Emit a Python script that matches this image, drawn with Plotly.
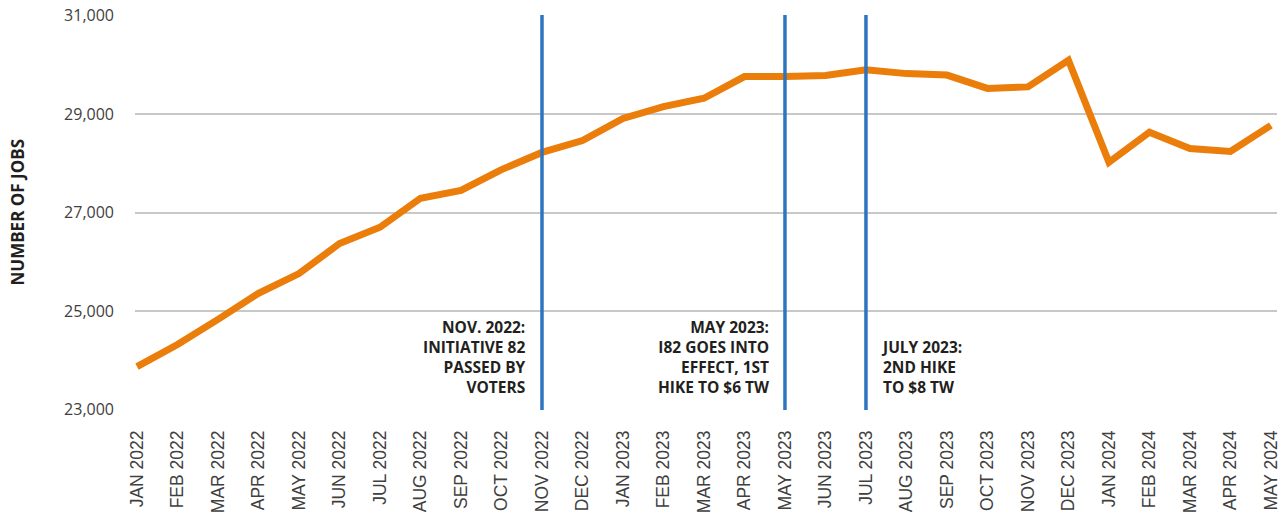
import plotly.graph_objects as go

# monthly job counts, Jan 2022 - May 2024
months = ["JAN 2022", "FEB 2022", "MAR 2022", "APR 2022", "MAY 2022", "JUN 2022",
          "JUL 2022", "AUG 2022", "SEP 2022", "OCT 2022", "NOV 2022", "DEC 2022",
          "JAN 2023", "FEB 2023", "MAR 2023", "APR 2023", "MAY 2023", "JUN 2023",
          "JUL 2023", "AUG 2023", "SEP 2023", "OCT 2023", "NOV 2023", "DEC 2023",
          "JAN 2024", "FEB 2024", "MAR 2024", "APR 2024", "MAY 2024"]
jobs = [23870, 24320, 24830, 25360, 25760, 26370,
        26700, 27290, 27450, 27870, 28220, 28460,
        28910, 29150, 29320, 29760, 29760, 29780,
        29900, 29820, 29790, 29520, 29550, 30090,
        28020, 28630, 28300, 28240, 28770]

# policy events marked with vertical lines
event_months = ["NOV 2022", "MAY 2023", "JUL 2023"]
event_labels = ["NOV. 2022:<br>INITIATIVE 82<br>PASSED BY<br>VOTERS",
                "MAY 2023:<br>I82 GOES INTO<br>EFFECT, 1ST<br>HIKE TO $6 TW",
                "JULY 2023:<br>2ND HIKE<br>TO $8 TW"]
event_sides = ["left", "left", "right"]

fig = go.Figure()
fig.add_scatter(x=list(range(len(months))), y=jobs, mode="lines",
                line=dict(color="#EB7D0B", width=7),
                hoverinfo="skip", showlegend=False)

for m, label, side in zip(event_months, event_labels, event_sides):
    idx = months.index(m)
    fig.add_shape(type="line", xref="x", yref="paper", x0=idx, x1=idx, y0=0, y1=1,
                  line=dict(color="#2E75C0", width=3.5))
    fig.add_annotation(x=idx, xref="x", y=0.025, yref="paper",
                       text=label, showarrow=False,
                       xanchor="right" if side == "left" else "left",
                       yanchor="bottom",
                       align="right" if side == "left" else "left",
                       xshift=-14 if side == "left" else 13,
                       font=dict(family="Open Sans", size=15.5, color="#231F20", weight="bold"))

# y axis title as a free annotation so it sits where the reference has it
fig.add_annotation(text="<b>NUMBER OF JOBS</b>", textangle=-90, showarrow=False,
                   xref="paper", x=0, xshift=-118, xanchor="center",
                   yref="paper", y=0.5, yanchor="middle",
                   font=dict(family="Open Sans", size=17, color="#231F20"))

fig.update_layout(
    width=1286, height=518,
    margin=dict(l=135, r=9, t=15, b=108),
    plot_bgcolor="white", paper_bgcolor="white",
    xaxis=dict(
        tickmode="array", tickvals=list(range(len(months))), ticktext=months,
        tickangle=-90, range=[-0.05, 28.15], automargin=False,
        showgrid=False, zeroline=False, showline=False, ticks="",
        ticklabelstandoff=16,
        tickfont=dict(family="Liberation Sans", size=17.5, color="#404040"),
    ),
    yaxis=dict(
        range=[22990, 31010], tickvals=[23000, 25000, 27000, 29000, 31000],
        tickformat=",d", showgrid=True, gridcolor="#C8C8C8", gridwidth=2,
        zeroline=False, showline=False, ticks="", ticklabelstandoff=20,
        automargin=False,
        tickfont=dict(family="Open Sans", size=16, color="#404040"),
    ),
)

# drop the browser's default page margin so the figure sits at the window corner
fig.write_html("out.html", config={"displayModeBar": False},
               post_script="document.body.style.margin='0';")
